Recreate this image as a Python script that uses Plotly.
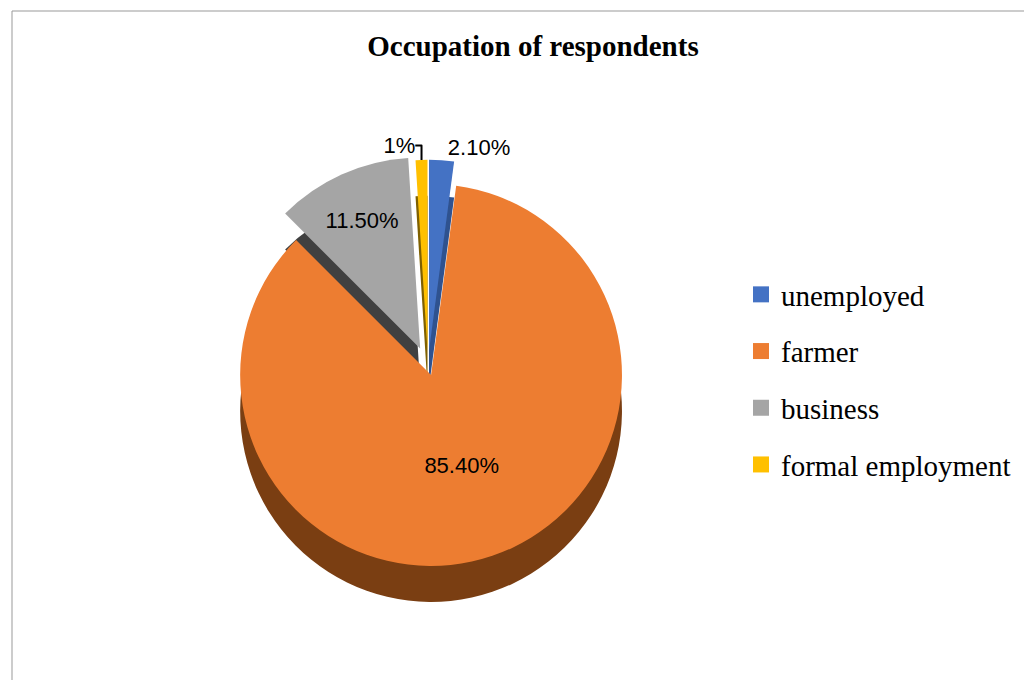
import plotly.graph_objects as go

labels = ["unemployed", "farmer", "business", "formal employment"]
values = [2.1, 85.4, 11.5, 1.0]
text_labels = ["2.10%", "85.40%", "11.50%", "1%"]
colors = ["#4472C4", "#ED7D31", "#A5A5A5", "#FFC000"]
side_colors = ["#2F528F", "#7A3E12", "#404040", "#7F6000"]
text_pos = ["outside", "inside", "inside", "outside"]
pulls = [0.08, 0.05, 0.1, 0.08]

W, H = 1032, 680
cx, cy = 420, 358
D = 420
depth = 36

def dom(cx, cy, D):
    return dict(x=[(cx - D / 2) / W, (cx + D / 2) / W],
                y=[(H - cy - D / 2) / H, (H - cy + D / 2) / H])

fig = go.Figure()

# side (depth) layer
fig.add_trace(go.Pie(
    labels=labels, values=values, sort=False, direction="clockwise", rotation=0,
    marker=dict(colors=side_colors, line=dict(width=0)),
    pull=pulls, textinfo="none", hoverinfo="skip", showlegend=False,
    domain=dom(cx, cy + depth, D),
))

# top layer
fig.add_trace(go.Pie(
    labels=labels, values=values, sort=False, direction="clockwise", rotation=0,
    marker=dict(colors=colors, line=dict(width=0)),
    pull=pulls, text=text_labels, textinfo="text", textposition=text_pos,
    insidetextorientation="horizontal",
    textfont=dict(family="Liberation Sans", size=22, color="#000000"),
    outsidetextfont=dict(family="Liberation Sans", size=22, color="#000000"),
    showlegend=False,
    domain=dom(cx, cy, D),
))

# legend entries
for lab, col in zip(labels, colors):
    fig.add_trace(go.Scatter(
        x=[None], y=[None], mode="markers", name=lab, legendgroup=lab,
        marker=dict(symbol="square", size=16, color=col),
    ))

fig.update_layout(
    width=W, height=H,
    margin=dict(l=0, r=0, t=0, b=0),
    paper_bgcolor="white", plot_bgcolor="white",
    title=dict(text="<b>Occupation of respondents</b>", x=525 / W, xanchor="center",
               y=1 - 38 / H, yanchor="middle", yref="container",
               font=dict(family="Liberation Serif", size=29, color="#000000")),
    xaxis=dict(visible=False), yaxis=dict(visible=False),
    legend=dict(x=733 / W, y=1 - 261 / H, xanchor="left", yanchor="top",
                font=dict(family="Liberation Serif", size=29, color="#000000"),
                tracegroupgap=16, bgcolor="rgba(0,0,0,0)"),
    shapes=[dict(type="rect", xref="paper", yref="paper",
                 x0=4 / W, x1=1029 / W, y0=-0.2, y1=1 - 3 / H,
                 line=dict(color="#999999", width=1), fillcolor="rgba(0,0,0,0)")],
)

fig.write_html("out.html")
